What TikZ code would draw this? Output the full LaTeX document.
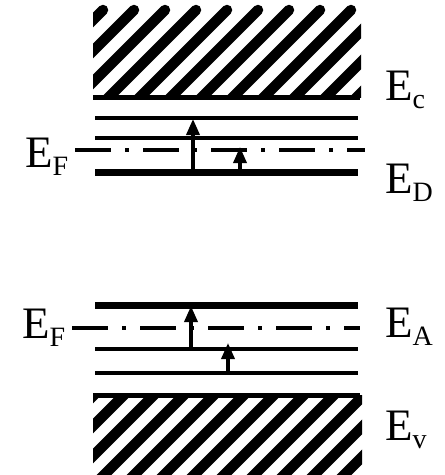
\documentclass[tikz,border=0pt]{standalone}
\usepackage{fontspec}
\setmainfont{Liberation Serif}
\usetikzlibrary{arrows.meta}
\newcommand{\lvlab}[2]{#1\raisebox{-8pt}{\fontsize{28}{28}\selectfont #2}}
\begin{document}
\begin{tikzpicture}[x=1pt,y=-1pt,
  lvl/.style={line width=4pt},
  thicklvl/.style={line width=7pt},
  fermi/.style={line width=3.5pt, dash pattern=on 36pt off 14pt on 4pt off 14pt},
  hatchline/.style={line width=10.5pt, line cap=round},
  lab/.style={font=\fontsize{45}{45}\selectfont, inner sep=0pt, anchor=base west},
  up/.style={line width=3.5pt, -{Triangle[width=13pt,length=16pt]}}]
\useasboundingbox (0,0) rectangle (445,475);

% ---------- upper (n-type) diagram ----------
\begin{scope}
  \clip (93,2) rectangle (361,97);
  \foreach \k in {-1,...,12}
    \draw[hatchline] ({113+31*\k-105},105) -- ({113+31*\k-10},10);
\end{scope}
\coordinate (cL) at (93,97);  \coordinate (cR) at (360,97);
\coordinate (aL) at (95,118); \coordinate (aR) at (358,118);
\coordinate (bL) at (95,138); \coordinate (bR) at (358,138);
\coordinate (fL) at (75,150); \coordinate (fR) at (365,150);
\coordinate (dL) at (95,172); \coordinate (dR) at (358,172);
\draw[line width=5pt] (cL) -- (cR);
\draw[lvl] (aL) -- (aR);
\draw[lvl] (bL) -- (bR);
\draw[fermi] (fL) -- (fR);
\draw[thicklvl] (dL) -- (dR);
\coordinate (u1s) at (193,172); \coordinate (u1e) at (193,119);
\coordinate (u2s) at (240,172); \coordinate (u2e) at (240,147);
\draw[up] (u1s) -- (u1e);
\draw[up] (u2s) -- (u2e);
\node[lab] (Ec) at (385,100) {\lvlab{E}{c}};
\node[lab] (ED) at (385,193) {\lvlab{E}{D}};
\node[lab] (EF1) at (25,167) {\lvlab{E}{F}};

% ---------- lower (p-type) diagram ----------
\coordinate (eL) at (95,305);  \coordinate (eR) at (358,305);
\coordinate (gL) at (72,328);  \coordinate (gR) at (360,328);
\coordinate (hL) at (95,349);  \coordinate (hR) at (358,349);
\coordinate (iL) at (95,373);  \coordinate (iR) at (358,373);
\coordinate (vL) at (93,395);  \coordinate (vR) at (360,395);
\draw[thicklvl] (eL) -- (eR);
\draw[fermi] (gL) -- (gR);
\draw[lvl] (hL) -- (hR);
\draw[lvl] (iL) -- (iR);
\begin{scope}
  \clip (93,395) rectangle (362,475);
  \foreach \k in {-1,...,10}
    \draw[hatchline] ({519+30*\k-390},390) -- ({519+30*\k-480},480);
\end{scope}
\draw[line width=5pt] (vL) -- (vR);
\coordinate (l1s) at (191,349); \coordinate (l1e) at (191,306);
\coordinate (l2s) at (228,373); \coordinate (l2e) at (228,343);
\draw[up] (l1s) -- (l1e);
\draw[up] (l2s) -- (l2e);
\node[lab] (EA) at (385,337) {\lvlab{E}{A}};
\node[lab] (Ev) at (385,440) {\lvlab{E}{v}};
\node[lab] (EF2) at (22,338) {\lvlab{E}{F}};
\end{tikzpicture}
\end{document}
